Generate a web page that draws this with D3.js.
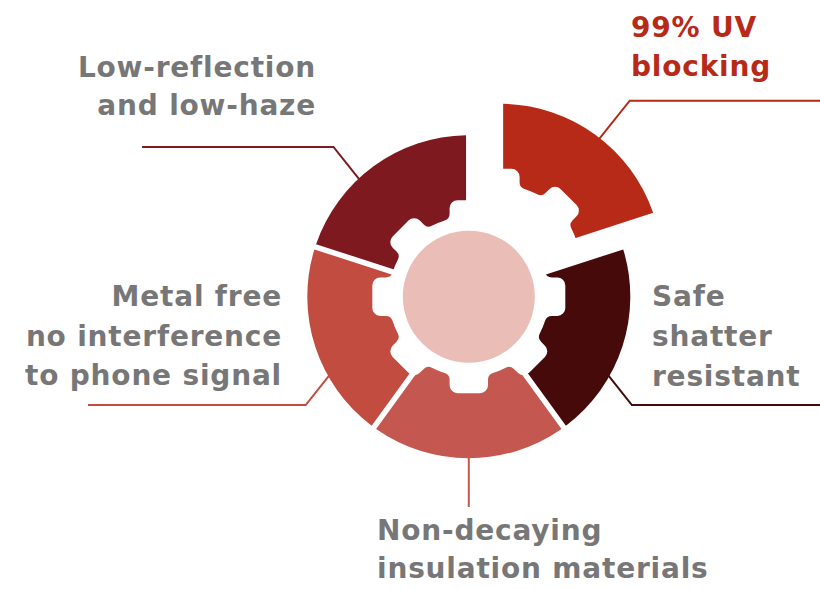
<!DOCTYPE html>
<html><head><meta charset="utf-8">
<script src="https://cdn.jsdelivr.net/npm/d3@7"></script>
<style>html,body{margin:0;padding:0;background:#fff;}svg{display:block;}</style>
</head><body><div id="chart"></div>
<script>
// ---- data ----
const categories = ["99% UV blocking", "Safe shatter resistant", "Non-decaying insulation materials", "Metal free no interference to phone signal", "Low-reflection and low-haze"];
const labelLines = [["99% UV", "blocking"], ["Safe", "shatter", "resistant"], ["Non-decaying", "insulation materials"], ["Metal free", "no interference", "to phone signal"], ["Low-reflection", "and low-haze"]];
const values = [1, 1, 1, 1, 1];
const colors = ["#b72a18", "#450a09", "#c45850", "#c14c3f", "#7e1a1f"];
const exploded = [true, false, false, false, false];

// ---- layout ----
const W = 820, H = 589;
const cx = 468.8, cy = 296.7;
const R = 161.5, hubR = 66;
const explodeVec = [31.6, -31.4];
const leaders = [
  {ang: 38, y: 100.7, endX: 822, side: 1, tx: 631, ty: 37, anchor: "start", color: "#b72a18"},
  {ang: 119.5, y: 405, endX: 822, side: 1, tx: 652, ty: 306, anchor: "start", color: "#777777"},
  {ang: 180, y: 507, endX: null, side: 0, tx: 377, ty: 540, anchor: "start", color: "#777777"},
  {ang: 240.5, y: 405, endX: 88, side: -1, tx: 282, ty: 306, anchor: "end", color: "#777777"},
  {ang: 317, y: 147, endX: 142, side: -1, tx: 316, ty: 77, anchor: "end", color: "#777777"}
];
const lineGap = [39, 40, 38, 39.5, 37.5];

const svg = d3.select("#chart").append("svg").attr("width", W).attr("height", H);

function gearPath(cx, cy, R0, R1, h, f, t, n) {
  const uc = Math.sqrt((R0 + f) ** 2 - (h + f) ** 2);
  const k = R0 / (R0 + f);
  let d = "";
  let first = null;
  for (let i = 0; i < n; i++) {
    const phi = i * 2 * Math.PI / n;
    const P = (u, v) => [cx + u * Math.sin(phi) + v * Math.cos(phi), cy - u * Math.cos(phi) + v * Math.sin(phi)];
    const a = P(uc * k, -(h + f) * k), b = P(uc, -h), c = P(R1 - t, -h), d1 = P(R1, -h + t),
          e = P(R1, h - t), g = P(R1 - t, h), hh = P(uc, h), j = P(uc * k, (h + f) * k);
    if (i === 0) { d += `M${a}`; first = a; }
    else d += `A${R0},${R0} 0 0 1 ${a}`;
    d += `A${f},${f} 0 0 0 ${b}L${c}A${t},${t} 0 0 1 ${d1}L${e}A${t},${t} 0 0 1 ${g}L${hh}A${f},${f} 0 0 0 ${j}`;
  }
  d += `A${R0},${R0} 0 0 1 ${first}Z`;
  return d;
}

const defs = svg.append("defs");
const mask = defs.append("mask").attr("id", "gearMask").attr("maskUnits", "userSpaceOnUse")
  .attr("x", -100).attr("y", -100).attr("width", W + 200).attr("height", H + 200);
mask.append("rect").attr("x", -100).attr("y", -100).attr("width", W + 200).attr("height", H + 200).attr("fill", "#fff");
mask.append("path").attr("d", gearPath(cx, cy, 80, 96.5, 19.2, 7, 8, 8)).attr("fill", "#000");

const pie = d3.pie().sort(null).value(d => d)(values);
const arc = d3.arc().innerRadius(60).outerRadius(R).padAngle(0.055).padRadius(100);

const segs = svg.append("g").selectAll("g").data(pie).join("g")
  .attr("transform", (d, i) => exploded[i] ? `translate(${explodeVec[0]},${explodeVec[1]})` : null);
segs.each(function (d, i) {
  const inner = d3.select(this).append("g").attr("mask", "url(#gearMask)");
  inner.append("path").attr("d", arc(d)).attr("transform", `translate(${cx},${cy})`).attr("fill", colors[i]);
});

svg.append("circle").attr("cx", cx).attr("cy", cy).attr("r", hubR).attr("fill", "#eabdb6");

const rad = Math.PI / 180;
leaders.forEach((L, i) => {
  const off = exploded[i] ? explodeVec : [0, 0];
  const sx = cx + off[0] + (R - 1) * Math.sin(L.ang * rad);
  const sy = cy + off[1] - (R - 1) * Math.cos(L.ang * rad);
  let pts;
  if (L.endX === null) pts = [[sx, sy], [sx, L.y]];
  else {
    const ex = sx + L.side * Math.abs(L.y - sy) * 0.8;
    pts = [[sx, sy], [ex, L.y], [L.endX, L.y]];
  }
  svg.append("path").attr("d", d3.line()(pts)).attr("fill", "none")
    .attr("stroke", colors[i]).attr("stroke-width", 2);
});

leaders.forEach((L, i) => {
  const t = svg.append("text").attr("text-anchor", L.anchor)
    .attr("font-family", "'DejaVu Sans', sans-serif").attr("font-weight", "bold")
    .attr("font-size", 28).attr("letter-spacing", 0.8).attr("fill", L.color);
  labelLines[i].forEach((s, k) => {
    t.append("tspan").attr("x", L.tx).attr("y", L.ty + k * lineGap[i]).text(s);
  });
});
</script></body></html>
